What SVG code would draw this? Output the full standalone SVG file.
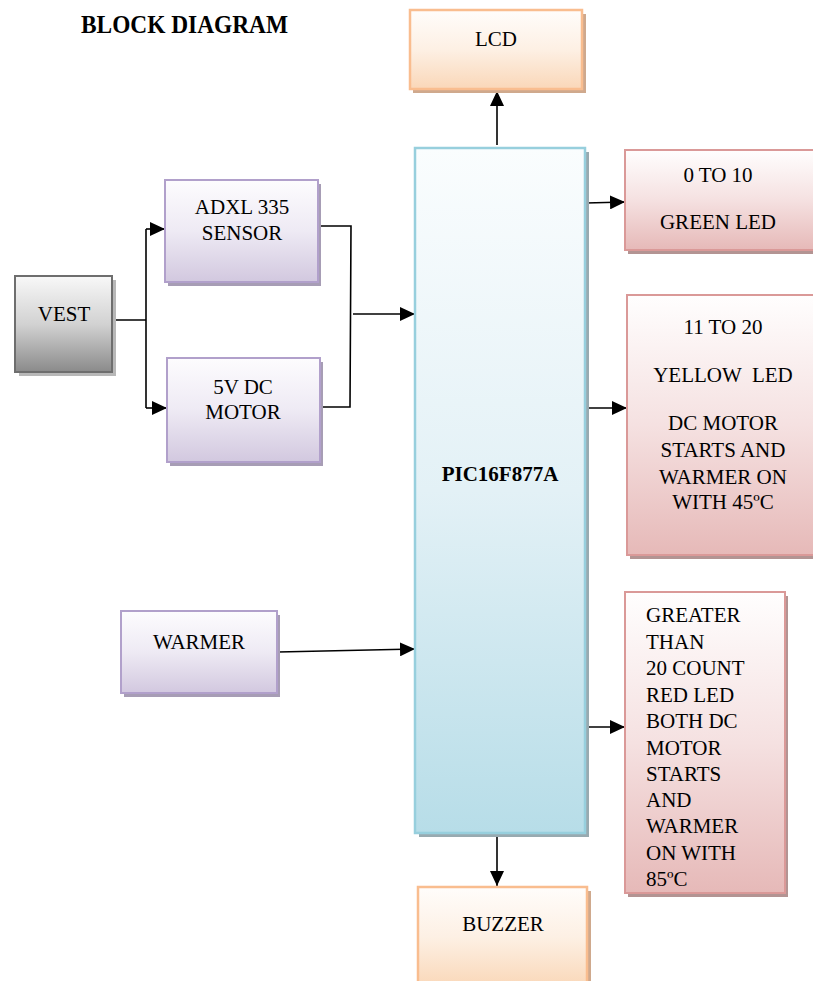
<svg xmlns="http://www.w3.org/2000/svg" width="813" height="981" viewBox="0 0 813 981">
<defs>
<linearGradient id="gLav" x1="0" y1="0" x2="0" y2="1"><stop offset="0" stop-color="#fdfcfe"/><stop offset="0.5" stop-color="#eeeaf4"/><stop offset="1" stop-color="#d2c8df"/></linearGradient>
<linearGradient id="gOr" x1="0" y1="0" x2="0" y2="1"><stop offset="0" stop-color="#fffdfb"/><stop offset="0.5" stop-color="#fdf0e4"/><stop offset="1" stop-color="#fad7b8"/></linearGradient>
<linearGradient id="gPk" x1="0" y1="0" x2="0" y2="1"><stop offset="0" stop-color="#fffefe"/><stop offset="0.5" stop-color="#f5e1e1"/><stop offset="1" stop-color="#e6b9b8"/></linearGradient>
<linearGradient id="gBl" x1="0" y1="0" x2="0" y2="1"><stop offset="0" stop-color="#fafdfe"/><stop offset="0.5" stop-color="#e3f1f6"/><stop offset="1" stop-color="#b7dde8"/></linearGradient>
<linearGradient id="gGy" x1="0" y1="0" x2="0" y2="1"><stop offset="0" stop-color="#f8f8f8"/><stop offset="0.5" stop-color="#d2d2d2"/><stop offset="1" stop-color="#8a8a8a"/></linearGradient>
<marker id="arr" markerUnits="userSpaceOnUse" markerWidth="16" markerHeight="14" refX="15" refY="7" orient="auto"><path d="M0,0 L15,7 L0,14 Z" fill="#000"/></marker>
</defs>
<style>
text{font-family:"Liberation Serif","Times New Roman","DejaVu Serif",serif;font-size:21px;font-weight:normal;fill:#000;}
.c{text-anchor:middle;}
.b{font-weight:bold;}
.lav{fill:url(#gLav);stroke:#b1a0cb;stroke-width:2;}
.lavs{fill:#a79db5;}
.or{fill:url(#gOr);stroke:#f9bd8f;stroke-width:2.5;}
.ors{fill:#cfa98d;}
.pk{fill:url(#gPk);stroke:#da9998;stroke-width:2;}
.pks{fill:#b39493;}
.bl{fill:url(#gBl);stroke:#97cfdd;stroke-width:2.5;}
.bls{fill:#98aab0;}
.gy{fill:url(#gGy);stroke:#6e6e6e;stroke-width:2;}
.gys{fill:#b8b8b8;}
.ln{fill:none;stroke:#000;stroke-width:1.6;}
</style>
<text class="b" x="81" y="33" style="font-size:25px" textLength="207" lengthAdjust="spacingAndGlyphs">BLOCK DIAGRAM</text>

<g id="connectors">
<path class="ln" d="M497,145 L497,91" marker-end="url(#arr)"/>
<path class="ln" d="M497,834 L497,886" marker-end="url(#arr)"/>
<path class="ln" d="M112,320 L146,320"/>
<path class="ln" d="M146,229 L146,408"/>
<path class="ln" d="M146,229 L165,229" marker-end="url(#arr)"/>
<path class="ln" d="M146,408 L167,408" marker-end="url(#arr)"/>
<path class="ln" d="M318,226 L351,226 L350,407 L320,407"/>
<path class="ln" d="M353,314 L415,314" marker-end="url(#arr)"/>
<path class="ln" d="M278,652 L415,649" marker-end="url(#arr)"/>
<path class="ln" d="M586,203 L625,202" marker-end="url(#arr)"/>
<path class="ln" d="M586,408 L627,408" marker-end="url(#arr)"/>
<path class="ln" d="M587,727 L625,727" marker-end="url(#arr)"/>
</g>

<g id="lcd">
<rect class="ors" x="413" y="14" width="173" height="79"/>
<rect class="or" x="410" y="10" width="172" height="79"/>
<text class="c" x="496" y="46">LCD</text>
</g>

<g id="pic">
<rect class="bls" x="419" y="152" width="170" height="685"/>
<rect class="bl" x="415" y="148" width="170" height="685"/>
<text class="c b" x="500" y="481">PIC16F877A</text>
</g>

<g id="buzzer">
<rect class="ors" x="421" y="891" width="170" height="100"/>
<rect class="or" x="418" y="887" width="169" height="100"/>
<text class="c" x="503" y="931">BUZZER</text>
</g>

<g id="vest">
<rect class="gys" x="19" y="280" width="97" height="96"/>
<rect class="gy" x="15" y="276" width="97" height="96"/>
<text class="c" x="64" y="321">VEST</text>
</g>

<g id="adxl">
<rect class="lavs" x="168" y="184" width="153" height="102"/>
<rect class="lav" x="165" y="180" width="153" height="102"/>
<text class="c" x="242" y="214">ADXL 335</text>
<text class="c" x="242" y="240">SENSOR</text>
</g>

<g id="motor">
<rect class="lavs" x="170" y="362" width="153" height="104"/>
<rect class="lav" x="167" y="358" width="153" height="104"/>
<text class="c" x="243" y="394">5V DC</text>
<text class="c" x="243" y="419">MOTOR</text>
</g>

<g id="warmer">
<rect class="lavs" x="124" y="615" width="156" height="82"/>
<rect class="lav" x="121" y="611" width="156" height="82"/>
<text class="c" x="199" y="649">WARMER</text>
</g>

<g id="green">
<rect class="pks" x="628" y="154" width="190" height="100"/>
<rect class="pk" x="625" y="150" width="192" height="100"/>
<text class="c" x="718" y="182">0 TO 10</text>
<text class="c" x="718" y="229">GREEN LED</text>
</g>

<g id="yellow">
<rect class="pks" x="630" y="299" width="190" height="260"/>
<rect class="pk" x="627" y="295" width="192" height="260"/>
<text class="c" x="723" y="334">11 TO 20</text>
<text class="c" x="723" y="382" xml:space="preserve">YELLOW  LED</text>
<text class="c" x="723" y="430">DC MOTOR</text>
<text class="c" x="723" y="457">STARTS AND</text>
<text class="c" x="723" y="484">WARMER ON</text>
<text class="c" x="723" y="509">WITH 45ºC</text>
</g>

<g id="red">
<rect class="pks" x="628" y="596" width="160" height="301"/>
<rect class="pk" x="625" y="592" width="160" height="301"/>
<text x="646" y="622">GREATER</text>
<text x="646" y="649">THAN</text>
<text x="646" y="675">20 COUNT</text>
<text x="646" y="702">RED LED</text>
<text x="646" y="728">BOTH DC</text>
<text x="646" y="755">MOTOR</text>
<text x="646" y="781">STARTS</text>
<text x="646" y="807">AND</text>
<text x="646" y="833">WARMER</text>
<text x="646" y="860">ON WITH</text>
<text x="646" y="886">85ºC</text>
</g>
</svg>
